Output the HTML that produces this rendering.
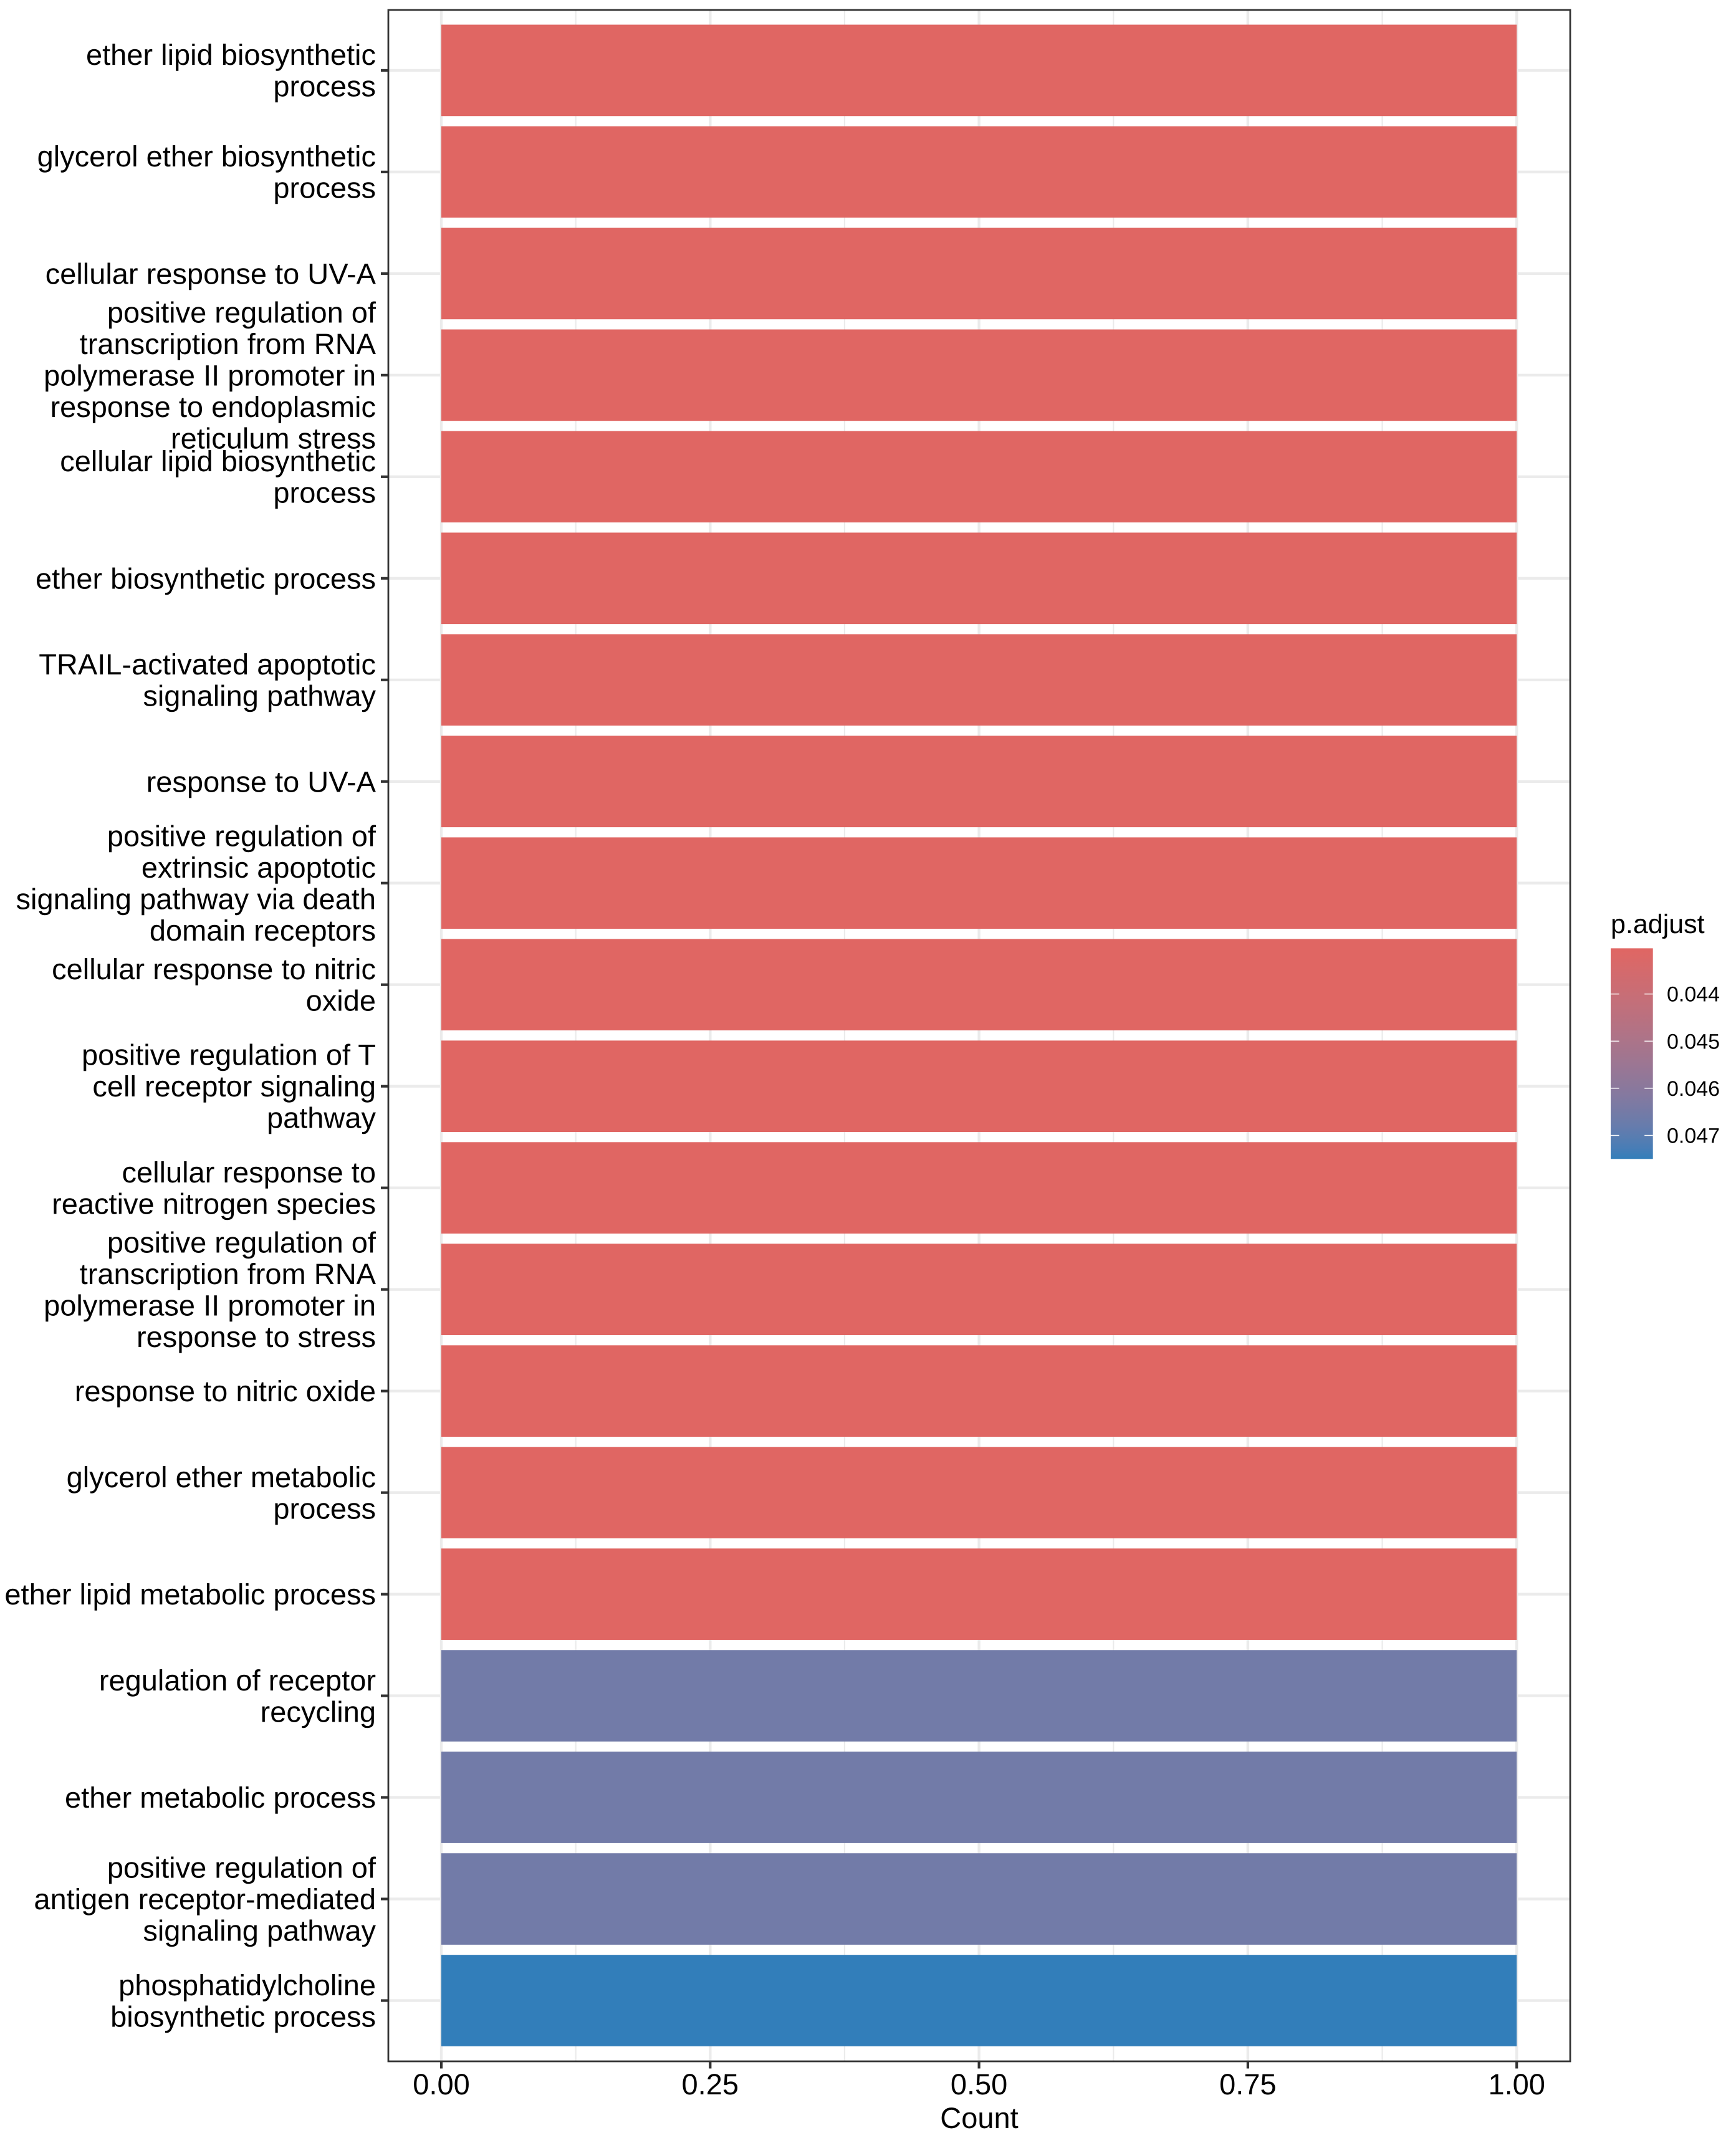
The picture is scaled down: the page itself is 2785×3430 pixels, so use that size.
<!DOCTYPE html>
<html lang="en">
<head>
<meta charset="utf-8">
<title>GO enrichment bar chart</title>
<style>
  html, body { margin: 0; padding: 0; background: #ffffff; }
  svg { display: block; }
  text { font-family: "Liberation Sans", Arial, sans-serif; fill: #000000; text-rendering: geometricPrecision; }
</style>
</head>
<body>
<svg id="chart" xmlns="http://www.w3.org/2000/svg" width="2785" height="3430" viewBox="0 0 2785 3430">
  <defs>
    <linearGradient id="legend-gradient" x1="0" y1="0" x2="0" y2="1"></linearGradient>
  </defs>
  <rect x="0" y="0" width="2785" height="3430" fill="#ffffff"></rect>
  <g id="grid"></g>
  <g id="bars"></g>
  <rect x="623" y="16" width="1896" height="3291" fill="none" stroke="#333333" stroke-width="2.8"></rect>
  <g id="y-axis"></g>
  <g id="x-axis"></g>
  <text x="1571" y="3414" font-size="47" text-anchor="middle">Count</text>
  <g id="legend">
    <text x="2584" y="1497" font-size="43">p.adjust</text>
  </g>
</svg>
<script>
const categories = [
  "ether lipid biosynthetic\nprocess",
  "glycerol ether biosynthetic\nprocess",
  "cellular response to UV-A",
  "positive regulation of\ntranscription from RNA\npolymerase II promoter in\nresponse to endoplasmic\nreticulum stress",
  "cellular lipid biosynthetic\nprocess",
  "ether biosynthetic process",
  "TRAIL-activated apoptotic\nsignaling pathway",
  "response to UV-A",
  "positive regulation of\nextrinsic apoptotic\nsignaling pathway via death\ndomain receptors",
  "cellular response to nitric\noxide",
  "positive regulation of T\ncell receptor signaling\npathway",
  "cellular response to\nreactive nitrogen species",
  "positive regulation of\ntranscription from RNA\npolymerase II promoter in\nresponse to stress",
  "response to nitric oxide",
  "glycerol ether metabolic\nprocess",
  "ether lipid metabolic process",
  "regulation of receptor\nrecycling",
  "ether metabolic process",
  "positive regulation of\nantigen receptor-mediated\nsignaling pathway",
  "phosphatidylcholine\nbiosynthetic process"
];
const counts = [1, 1, 1, 1, 1, 1, 1, 1, 1, 1, 1, 1, 1, 1, 1, 1, 1, 1, 1, 1];
const pAdjust = [0.04303, 0.04303, 0.04303, 0.04303, 0.04303, 0.04303, 0.04303, 0.04303, 0.04303, 0.04303, 0.04303, 0.04303, 0.04303, 0.04303, 0.04303, 0.04303, 0.04657, 0.04657, 0.04657, 0.0475];
const xTickValues = [0, 0.25, 0.5, 0.75, 1];
const xTickLabels = ["0.00", "0.25", "0.50", "0.75", "1.00"];
const xMinorValues = [0.125, 0.375, 0.625, 0.875];
const legendTickValues = [0.044, 0.045, 0.046, 0.047];
const legendTickLabels = ["0.044", "0.045", "0.046", "0.047"];

const SVGNS = "http://www.w3.org/2000/svg";
function make(parent, tag, attrs, text) {
  const el = document.createElementNS(SVGNS, tag);
  for (const k in attrs) el.setAttribute(k, attrs[k]);
  if (text !== undefined) el.textContent = text;
  parent.appendChild(el);
  return el;
}

// Axis functions
const panelLeft = 623, panelRight = 2519, panelTop = 16, panelBottom = 3307;
function xScale(v) { return 708 + v * 1725.2; }
function yScale(i) { return 112.9 + i * 162.98; }
const bandHeight = 162.98 * 0.9;
function legendY(v) { return 1594.7 + (v - 0.044) * 75600; }

// Colour scale, interpolated in Lab space between the low and high colours
function toLin(c) { c /= 255; return c <= 0.04045 ? c / 12.92 : Math.pow((c + 0.055) / 1.055, 2.4); }
function toSrgb(c) { const v = c <= 0.0031308 ? 12.92 * c : 1.055 * Math.pow(c, 1 / 2.4) - 0.055; return Math.round(255 * Math.min(1, Math.max(0, v))); }
function fLab(t) { return t > 0.008856 ? Math.cbrt(t) : 7.787 * t + 16 / 116; }
function fInv(t) { return t > 0.2069 ? t * t * t : (t - 16 / 116) / 7.787; }
function rgbToLab(rgb) {
  const r = toLin(rgb[0]), g = toLin(rgb[1]), b = toLin(rgb[2]);
  const X = (0.4124 * r + 0.3576 * g + 0.1805 * b) / 0.95047;
  const Y = 0.2126 * r + 0.7152 * g + 0.0722 * b;
  const Z = (0.0193 * r + 0.1192 * g + 0.9505 * b) / 1.08883;
  return [116 * fLab(Y) - 16, 500 * (fLab(X) - fLab(Y)), 200 * (fLab(Y) - fLab(Z))];
}
function labToHex(lab) {
  const fy = (lab[0] + 16) / 116, fx = fy + lab[1] / 500, fz = fy - lab[2] / 200;
  const X = fInv(fx) * 0.95047, Y = fInv(fy), Z = fInv(fz) * 1.08883;
  const r = toSrgb(3.2406 * X - 1.5372 * Y - 0.4986 * Z);
  const g = toSrgb(-0.9689 * X + 1.8758 * Y + 0.0415 * Z);
  const b = toSrgb(0.0557 * X - 0.2040 * Y + 1.0570 * Z);
  return "rgb(" + r + "," + g + "," + b + ")";
}
const lowLab = rgbToLab([0xe0, 0x66, 0x63]);
const highLab = rgbToLab([0x32, 0x7e, 0xba]);
const pMin = Math.min.apply(null, pAdjust);
const pMax = Math.max.apply(null, pAdjust);
function fillAt(t) {
  t = Math.min(1, Math.max(0, t));
  return labToHex([0, 1, 2].map(function (i) { return lowLab[i] + (highLab[i] - lowLab[i]) * t; }));
}
function colorScale(p) { return fillAt((p - pMin) / ((pMax - pMin) || 1)); }

// Grid
const gridG = document.getElementById("grid");
xMinorValues.forEach(function (v) {
  const l = make(gridG, "line", { x1: xScale(v), x2: xScale(v), y1: panelTop, y2: panelBottom, stroke: "#ebebeb", "stroke-width": 2.2 });
  
  
});
xTickValues.forEach(function (v) {
  const l = make(gridG, "line", { x1: xScale(v), x2: xScale(v), y1: panelTop, y2: panelBottom, stroke: "#ebebeb", "stroke-width": 4.4 });
  
  
});
categories.forEach(function (c, i) {
  const l = make(gridG, "line", { x1: panelLeft, x2: panelRight, y1: yScale(i), y2: yScale(i), stroke: "#ebebeb", "stroke-width": 4.4 });
  
  
});

// Bars
const barsG = document.getElementById("bars");
categories.forEach(function (c, i) {
  const r = make(barsG, "rect", {
    x: xScale(0),
    y: yScale(i) - bandHeight / 2,
    width: xScale(counts[i]) - xScale(0),
    height: bandHeight,
    fill: colorScale(pAdjust[i])
  });
  
  
});

// Y axis
const yG = document.getElementById("y-axis");
const lineStep = 50.5;
categories.forEach(function (c, i) {
  const y = yScale(i);
  const t = make(yG, "line", { x1: 611, x2: panelLeft, y1: y, y2: y, stroke: "#333333", "stroke-width": 4.2 });
  
  
  const lines = c.split("\n");
  const label = make(yG, "text", { "font-size": 47, "text-anchor": "end" });
  
  
  lines.forEach(function (s, k) {
    make(label, "tspan", { x: 603, y: y + 16.5 + (k - (lines.length - 1) / 2) * lineStep }, s);
  });
});

// X axis
const xG = document.getElementById("x-axis");
xTickValues.forEach(function (v, i) {
  const x = xScale(v);
  const t = make(xG, "line", { x1: x, x2: x, y1: panelBottom, y2: 3318.5, stroke: "#333333", "stroke-width": 4.2 });
  
  
  const l = make(xG, "text", { x: x, y: 3360, "font-size": 47, "text-anchor": "middle" }, xTickLabels[i]);
  
  
});

// Legend
const grad = document.getElementById("legend-gradient");
for (let s = 0; s <= 20; s++) {
  make(grad, "stop", { offset: (s / 20), "stop-color": fillAt(s / 20) });
}
const legendG = document.getElementById("legend");
const barTop = legendY(pMin), barBottom = legendY(pMax);
const colorbar = make(legendG, "rect", { x: 2584, y: barTop, width: 67.7, height: barBottom - barTop, fill: "url(#legend-gradient)" });


legendTickValues.forEach(function (v, i) {
  const y = legendY(v);
  const a = make(legendG, "line", { x1: 2584, x2: 2597.5, y1: y, y2: y, stroke: "#ffffff", "stroke-width": 1.4 });
  
  
  const b = make(legendG, "line", { x1: 2638.2, x2: 2651.7, y1: y, y2: y, stroke: "#ffffff", "stroke-width": 1.4 });
  
  
  const t = make(legendG, "text", { x: 2674, y: y + 12, "font-size": 34 }, legendTickLabels[i]);
  
  
});
</script>
</body>
</html>
